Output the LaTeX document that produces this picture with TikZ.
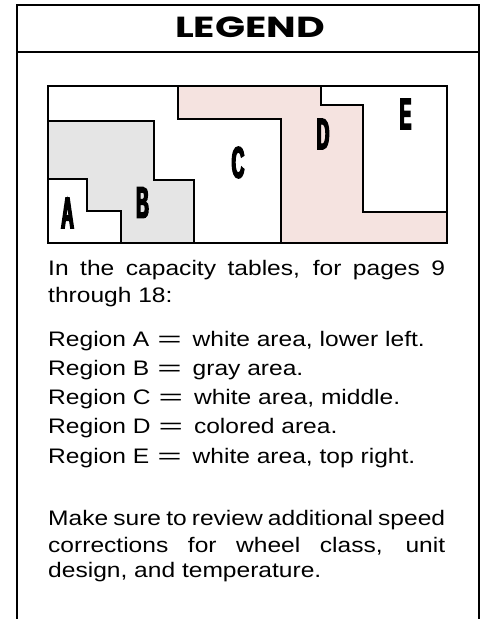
\documentclass[tikz,border=0pt]{standalone}
\usepackage{fontspec}
\usepackage{graphicx}
\setmainfont{Liberation Sans}[FakeStretch=1.17]
\newfontfamily\titlefont{Poppins}[FakeStretch=1.36]
\newfontfamily\letterfont{Liberation Sans Bold}[FakeStretch=0.4,FakeBold=3.5]
\definecolor{regiongray}{HTML}{E5E5E5}
\definecolor{regionpink}{HTML}{F5E3E0}
\tikzset{
  frameline/.style={line width=2pt},
  regionline/.style={line width=1.4pt, line join=miter},
  lettertxt/.style={inner sep=0pt, font=\letterfont\fontsize{44}{46}\selectfont},
  bodytxt/.style={inner sep=0pt, anchor=base west, font=\fontsize{21}{25}\selectfont},
  titletxt/.style={inner sep=0pt, font=\titlefont\bfseries\fontsize{29}{30}\selectfont},
}
\newcommand\eqsign{\hskip 8pt\scalebox{1.7}[1]{=}\hskip 11pt}
\newcommand\justline[1]{\makebox[397pt][s]{#1}}
\begin{document}
\begin{tikzpicture}[x=1pt,y=-1pt]
\useasboundingbox (0,0) rectangle (486,619);
% frame
\draw[frameline] (17,619) -- (17,5) -- (479,5) -- (479,619);
\draw[frameline] (17,52) -- (479,52);
\node[titletxt] (title) at (250,27) {LEGEND};
% region fills
\fill[regionpink] (178,86) -- (321,86) -- (321,105) -- (363,105) -- (363,212) -- (447,212) -- (447,243) -- (281,243) -- (281,119) -- (178,119) -- cycle;
\fill[regiongray] (48,121) -- (154,121) -- (154,180) -- (194,180) -- (194,243) -- (121,243) -- (121,211) -- (87,211) -- (87,179) -- (48,179) -- cycle;
% region lines
\draw[regionline] (48,179) -- (87,179) -- (87,211) -- (121,211) -- (121,243);
\draw[regionline] (48,121) -- (154,121) -- (154,180) -- (194,180) -- (194,243);
\draw[regionline] (178,86) -- (178,119) -- (281,119) -- (281,243);
\draw[regionline] (321,86) -- (321,105) -- (363,105) -- (363,212) -- (447,212);
\draw[regionline] (48,86) rectangle (447,243);
% letters
\node[lettertxt] (la) at (67.5,213) {A};
\node[lettertxt] (lb) at (142.5,202.5) {B};
\node[lettertxt] (lc) at (238,162.5) {C};
\node[lettertxt] (ld) at (323,134) {D};
\node[lettertxt] (le) at (405.5,114) {E};
% body text
\node[bodytxt] (p1a) at (48,275) {\justline{In the capacity tables, for pages 9}};
\node[bodytxt] (p1b) at (48,302) {through 18:};
\node[bodytxt] (ra) at (48,346) {Region A\eqsign white area, lower left.};
\node[bodytxt] (rb) at (48,375) {Region B\eqsign gray area.};
\node[bodytxt] (rc) at (48,404) {Region C\eqsign white area, middle.};
\node[bodytxt] (rd) at (48,433) {Region D\eqsign colored area.};
\node[bodytxt] (re) at (48,463) {Region E\eqsign white area, top right.};
\node[bodytxt] (p2a) at (48,525) {\justline{Make sure to review additional speed}};
\node[bodytxt] (p2b) at (48,552) {\justline{corrections for wheel class, unit}};
\node[bodytxt] (p2c) at (48,577) {design, and temperature.};
\end{tikzpicture}
\end{document}
